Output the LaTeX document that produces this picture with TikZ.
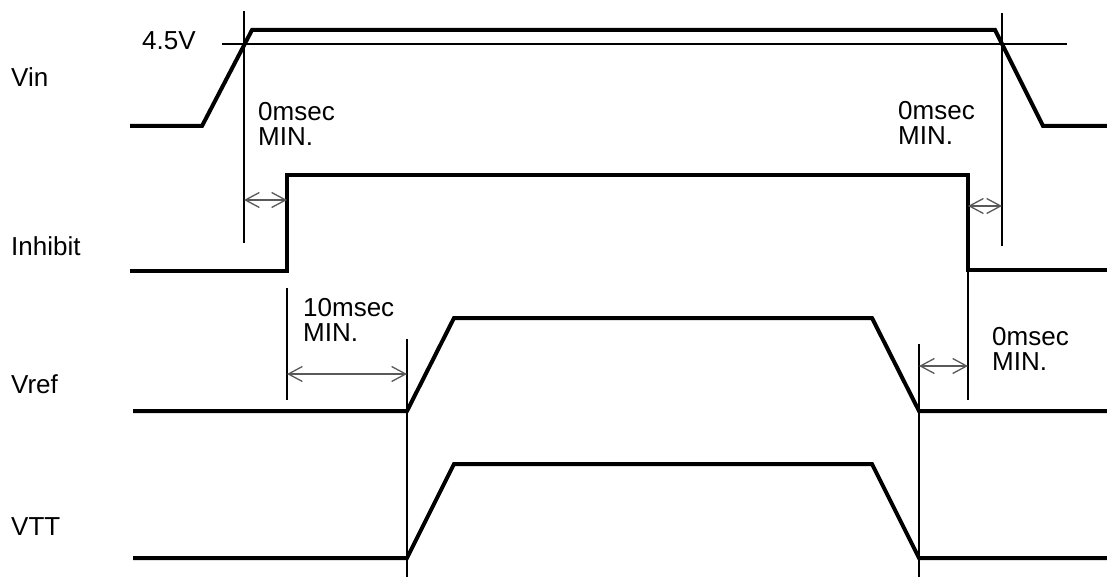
\documentclass[tikz,border=0pt]{standalone}
\usepackage{fontspec}
\setmainfont{Liberation Sans}
\usetikzlibrary{arrows.meta}
\tikzset{
  signal/.style={line width=4pt, line join=miter},
  guide/.style={line width=1.1pt},
  gap/.style={line width=1.6pt, black!65, {Straight Barb[length=14pt,width=15pt,line width=1.3pt]}-{Straight Barb[length=14pt,width=15pt,line width=1.3pt]}},
  lbl/.style={font=\fontsize{26}{25}\selectfont, inner sep=0pt},
  note/.style={lbl, align=left, anchor=north west}
}
\begin{document}
\begin{tikzpicture}[x=1pt,y=-1pt]
\useasboundingbox (0,0) rectangle (1107,577);
% signal names
\node[lbl, anchor=base west] (vin) at (11,87) {Vin};
\node[lbl, anchor=base west] (inh) at (11,255) {Inhibit};
\node[lbl, anchor=base west] (vref) at (11,393) {Vref};
\node[lbl, anchor=base west] (vtt) at (11,535) {VTT};
% waveforms
\draw[signal] (130,126) -- (202,126) -- (252,30) -- (995,30) -- (1043,126) -- (1107,126);
\draw[signal] (130,271) -- (287,271) -- (287,175) -- (968,175) -- (968,270) -- (1107,270);
\draw[signal] (133,411) -- (407,411) -- (454,318) -- (872,318) -- (919,411) -- (1107,411);
\draw[signal] (133,558) -- (407,558) -- (454,464) -- (872,464) -- (919,558) -- (1107,558);
% 4.5V threshold
\node[lbl, anchor=base west] (thr) at (142,50) {4.5V};
\coordinate (T1) at (222,44);
\coordinate (T2) at (1067,44);
\draw[guide] (T1) -- (T2);
% reference lines
\coordinate (A1) at (244,11);  \coordinate (A2) at (244,243);
\coordinate (B1) at (1002,13); \coordinate (B2) at (1002,246);
\coordinate (C1) at (287,288); \coordinate (C2) at (287,400);
\coordinate (D1) at (407,339); \coordinate (D2) at (407,577);
\coordinate (E1) at (919,344); \coordinate (E2) at (919,577);
\coordinate (F1) at (968,270); \coordinate (F2) at (968,400);
\draw[guide] (A1) -- (A2);
\draw[guide] (B1) -- (B2);
\draw[guide] (C1) -- (C2);
\draw[guide] (D1) -- (D2);
\draw[guide] (E1) -- (E2);
\draw[guide] (F1) -- (F2);
% delays
\coordinate (g1a) at (244,200); \coordinate (g1b) at (287,200);
\coordinate (g2a) at (968,206); \coordinate (g2b) at (1002,206);
\coordinate (g3a) at (287,374); \coordinate (g3b) at (407,374);
\coordinate (g4a) at (919,366); \coordinate (g4b) at (968,366);
\draw[gap] (g1a) -- (g1b);
\draw[gap] (g2a) -- (g2b);
\draw[gap] (g3a) -- (g3b);
\draw[gap] (g4a) -- (g4b);
\node[note] (t1) at (258,102) {0msec\\MIN.};
\node[note] (t2) at (898,101) {0msec\\MIN.};
\node[note] (t3) at (303,298) {10msec\\MIN.};
\node[note] (t4) at (992,327) {0msec\\MIN.};
\end{tikzpicture}
\end{document}
